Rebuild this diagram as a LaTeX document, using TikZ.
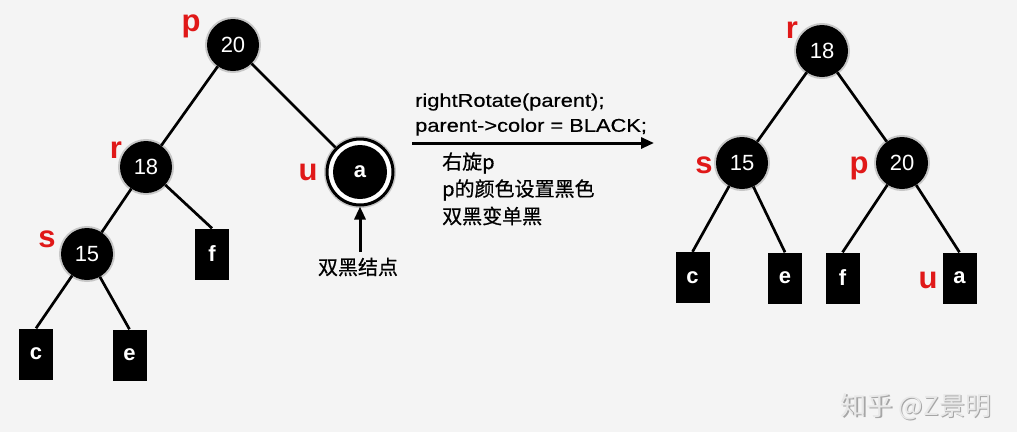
\documentclass[tikz,border=0pt]{standalone}
\usepackage{fontspec}
\setmainfont{Liberation Sans}
\newfontfamily\cjk[FakeBold=0.6]{Noto Sans CJK SC}
\newfontfamily\cjkw{Noto Sans CJK SC}
\newfontfamily\wide[FakeStretch=1.18,FakeBold=0.4]{Liberation Sans}
\usetikzlibrary{arrows.meta}
\definecolor{bg}{HTML}{F4F4F4}
\definecolor{lab}{HTML}{E01818}
\tikzset{
  rb/.style={circle,fill=black,inner sep=0pt,minimum size=52pt,text=white,font=\fontsize{22}{22}\selectfont,
    preaction={draw=black,line width=4pt,opacity=0.18}},
  leaf/.style={rectangle,fill=black,inner sep=0pt,minimum width=34pt,minimum height=51pt,text=white,font=\bfseries\fontsize{22}{22}\selectfont},
  tag/.style={text=lab,font=\bfseries\fontsize{31}{31}\selectfont,inner sep=0pt},
  edge/.style={line width=2.7pt,black},
  txt/.style={font=\wide\fontsize{18.5}{22}\selectfont,inner sep=0pt,anchor=west},
  cn/.style={font=\cjk\fontsize{20}{26}\selectfont,inner sep=0pt,anchor=west},
  tri/.style={-{Triangle[length=13pt,width=11pt]},line width=3pt}
}
\begin{document}
\begin{tikzpicture}[x=1pt,y=-1pt]
\fill[bg] (0,0) rectangle (1017,432);
\useasboundingbox (0,0) rectangle (1017,432);
% left tree
\node[rb] (p) at (233,45) {20};
\node[rb] (r) at (146,167) {18};
\node[rb] (s) at (87,254) {15};
\node[leaf] (c) at (36,354) {c};
\node[leaf] (e) at (129.5,355) {e};
\node[leaf] (f) at (212,254) {f};
\node[circle,draw=black,line width=3pt,fill=white,minimum size=66pt,inner sep=0pt,
  preaction={draw=black,line width=6pt,opacity=0.18}] (ua) at (360,172) {};
\node[circle,fill=black,inner sep=0pt,minimum size=54pt,text=white,font=\bfseries\fontsize{22}{22}\selectfont] (a) at (360,172) {a};
\node[tag] (lp) at (191,26) {p};
\node[tag] (lr) at (116,150) {r};
\node[tag] (ls) at (47,239) {s};
\node[tag] (lu) at (308,172) {u};
\draw[edge] (p) -- (r);
\draw[edge] (p) -- (ua);
\draw[edge] (r) -- (s);
\draw[edge] (r) -- (f.north);
\draw[edge] (s) -- (c.north);
\draw[edge] (s) -- (e.north);
\node[font=\cjk\fontsize{20}{20}\selectfont,inner sep=0pt] (db) at (358,267) {双黑结点};
\coordinate (dbtop) at ([yshift=6pt]db.north -| ua.south);
\draw[tri] (dbtop) -- (ua.south);
% middle
\node[txt] (t1) at (415,102) {rightRotate(parent);};
\node[txt] (t2) at (415,127) {parent->color = BLACK;};
\coordinate (m1) at (412,143);
\coordinate (m2) at (654,143);
\draw[tri] (m1) -- (m2);
\node[cn] (c1) at (442,163) {右旋p};
\node[cn] (c2) at (442,190) {p的颜色设置黑色};
\node[cn] (c3) at (442,216) {双黑变单黑};
% right tree
\node[rb] (R) at (822,51) {18};
\node[rb] (S) at (742,163) {15};
\node[rb] (P) at (902,163) {20};
\node[leaf] (C) at (692.5,277.5) {c};
\node[leaf] (E) at (785,278) {e};
\node[leaf] (F) at (842.5,278) {f};
\node[leaf] (A) at (959.5,278) {a};
\node[tag] (lR) at (792,30) {r};
\node[tag] (lS) at (704,165) {s};
\node[tag] (lP) at (859,168) {p};
\node[tag] (lU) at (928,280) {u};
\draw[edge] (R) -- (S);
\draw[edge] (R) -- (P);
\draw[edge] (S) -- (C.north);
\draw[edge] (S) -- (E.north);
\draw[edge] (P) -- (F.north);
\draw[edge] (P) -- (A.north);
% watermark
\node[text=gray!70,font=\cjkw\fontsize{26}{26}\selectfont,inner sep=0pt] (wms) at (917.2,408.2) {知乎 @Z景明};
\node[text=gray!18,font=\cjkw\fontsize{26}{26}\selectfont,inner sep=0pt] (wm) at (916,407) {知乎 @Z景明};
\end{tikzpicture}
\end{document}
